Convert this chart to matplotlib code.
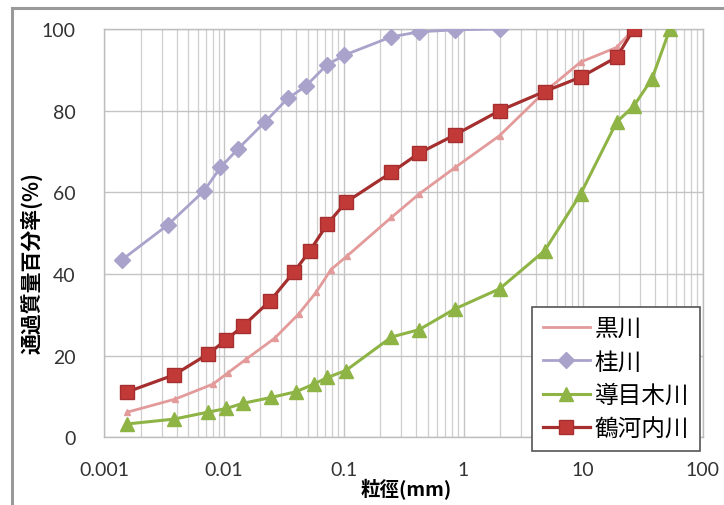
import matplotlib
matplotlib.use("Agg")
import matplotlib.pyplot as plt
from matplotlib.ticker import LogLocator, FixedLocator, NullFormatter

plt.rcParams['font.family'] = ['Lato', 'Noto Sans CJK JP', 'DejaVu Sans']

# Grain-size distribution data (particle size in mm, percent passing)
kuro_x = [0.00155, 0.0039, 0.0081, 0.0107, 0.0153, 0.0264, 0.0418, 0.0585, 0.078, 0.107,
          0.25, 0.425, 0.85, 2.0, 4.75, 9.5, 19, 26.5]
kuro_y = [6.2, 9.4, 13.1, 15.8, 19.2, 24.3, 30.2, 35.5, 41.1, 44.5,
          53.9, 59.6, 66.1, 73.9, 84.6, 91.9, 95.5, 100]

katsura_x = [0.0014, 0.0034, 0.0068, 0.0093, 0.013, 0.022, 0.034, 0.048, 0.072, 0.101,
             0.25, 0.425, 0.85, 2.0]
katsura_y = [43.5, 52.1, 60.4, 66.1, 70.6, 77.3, 83.0, 86.0, 91.2, 93.6,
             98.1, 99.3, 99.8, 100]

domeki_x = [0.00153, 0.0038, 0.0073, 0.0104, 0.0145, 0.0247, 0.0398, 0.0565, 0.073, 0.104,
            0.25, 0.425, 0.85, 2.0, 4.75, 9.5, 19, 26.5, 37.5, 53]
domeki_y = [3.3, 4.5, 6.2, 7.1, 8.4, 9.8, 11.2, 13.1, 14.7, 16.4,
            24.6, 26.4, 31.5, 36.4, 45.7, 59.6, 77.2, 81.2, 87.8, 100]

tsurugouchi_x = [0.00153, 0.0038, 0.0073, 0.0104, 0.0145, 0.0243, 0.038, 0.052, 0.073, 0.104,
                 0.25, 0.425, 0.85, 2.0, 4.75, 9.5, 19, 26.5]
tsurugouchi_y = [11.1, 15.3, 20.4, 23.9, 27.4, 33.5, 40.4, 45.7, 52.3, 57.6,
                 64.9, 69.6, 74.1, 80.0, 84.7, 88.2, 93.1, 100]

series_names = ['黒川', '桂川', '導目木川', '鶴河内川']
x_ticks = [0.001, 0.01, 0.1, 1, 10, 100]
x_tick_labels = ['0.001', '0.01', '0.1', '1', '10', '100']
y_ticks = [0, 20, 40, 60, 80, 100]

cjk = ['Noto Sans CJK JP', 'DejaVu Sans']

fig = plt.figure(figsize=(7.24, 5.06), dpi=100)

# outer chart frame: a blank background axes whose top/left spines form the border
frame_ax = fig.add_axes([12 / 724, -0.2, 1.2, 1.2 + 0.983 - 1.0], zorder=-5)
frame_ax.set_xticks([])
frame_ax.set_yticks([])
frame_ax.patch.set_alpha(0)
for side, sp in frame_ax.spines.items():
    sp.set_color('#9a9a9a')
    sp.set_linewidth(2.2)

ax = fig.add_axes([0.1443, 0.1334, 0.8266, 0.8073])

ax.plot(kuro_x, kuro_y, color='#e39a9a', lw=2.0, marker='^', ms=4,
        mfc='#e39a9a', mec='#e39a9a', label=series_names[0], zorder=3)
ax.plot(katsura_x, katsura_y, color='#a9a3cc', lw=2.0, marker='D', ms=8,
        mfc='#a9a3cc', mec='#a9a3cc', label=series_names[1], zorder=3)
ax.plot(domeki_x, domeki_y, color='#8fb446', lw=2.2, marker='^', ms=10,
        mfc='#8fb446', mec='#8fb446', label=series_names[2], zorder=3)
ax.plot(tsurugouchi_x, tsurugouchi_y, color='#a52e2e', lw=2.3, marker='s', ms=10,
        mfc='#c23a38', mec='#a52e2e', label=series_names[3], zorder=4)

ax.set_xscale('log')
ax.set_xlim(0.001, 100)
ax.set_ylim(0, 100)
ax.xaxis.set_major_locator(FixedLocator(x_ticks))
ax.set_xticklabels(x_tick_labels)
ax.xaxis.set_minor_locator(LogLocator(base=10, subs=range(2, 10), numticks=20))
ax.xaxis.set_minor_formatter(NullFormatter())
ax.set_yticks(y_ticks)

ax.grid(which='major', axis='both', color='#c4c4c4', lw=1.0)
ax.grid(which='minor', axis='x', color='#cfcfcf', lw=0.9)
ax.set_axisbelow(True)
ax.tick_params(which='both', length=0, labelsize=14, colors='#333333')
ax.tick_params(axis='x', pad=17)
ax.tick_params(axis='y', pad=21)
for sp in ax.spines.values():
    sp.set_color('#bdbdbd')
    sp.set_linewidth(1.0)

ax.set_xlabel('粒徑(mm)', fontsize=14, fontweight='bold', family=cjk)
ax.set_ylabel('通過質量百分率(%)', fontsize=15, fontweight='bold', family=cjk)
ax.yaxis.set_label_coords(-0.103, 0.43)
ax.xaxis.set_label_coords(0.505, -0.1)

leg = ax.legend(loc='upper left', bbox_to_anchor=(0.735, 0.392),
                bbox_transform=fig.transFigure, borderaxespad=0,
                prop={'family': cjk, 'size': 17},
                frameon=True, fancybox=False, framealpha=1, edgecolor='#555555',
                handlelength=2.0, handletextpad=0.2, labelspacing=0.44,
                borderpad=0.45)
leg.get_frame().set_linewidth(1.2)
leg.legend_handles[0].set_marker('')

fig.savefig('out.png', dpi=100)
